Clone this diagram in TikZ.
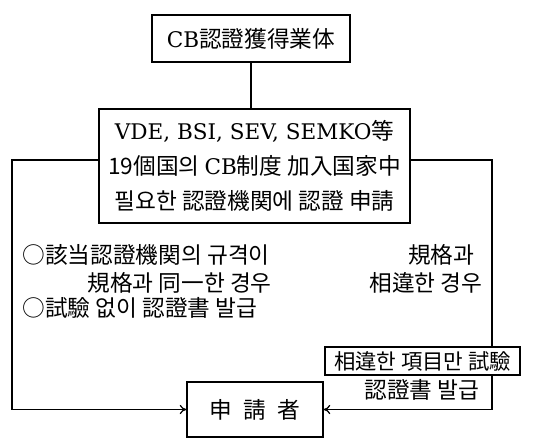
\documentclass[tikz,border=0pt]{standalone}
\usepackage{fontspec}
\newfontfamily\kr{Noto Sans CJK KR}
\newfontfamily\lat{DejaVu Serif}[Scale=0.95]
\usepackage{tikz}
\usetikzlibrary{calc,arrows.meta}

\begin{document}
\begin{tikzpicture}[x=0.75pt,y=-0.75pt,line width=0.9pt,>={To[length=5pt,width=7pt]},
    caja/.style={draw,inner sep=0pt,align=center,font=\kr\fontsize{17}{25}\selectfont},
    texto/.style={inner sep=0pt,font=\kr\fontsize{17}{22}\selectfont}]
    \useasboundingbox (0,0) rectangle (542,438);

    % Caja superior
    \node[caja,minimum width=148.5pt,minimum height=35.25pt] (top) at (251,38.5)
      {{\lat CB}認證獲得業体};

    % Caja central
    \node[caja,minimum width=233.25pt,minimum height=85.5pt] (mid) at (254.5,166)
      {{\lat VDE, BSI, SEV, SEMKO}等\\[1pt]19個国의 {\lat CB}制度 加入国家中\\[1pt]필요한 認證機関에 認證 申請};

    % Caja de prueba
    \node[caja,font=\kr\fontsize{16}{20}\selectfont,minimum width=146.25pt,minimum height=21pt] (diff) at (422.5,361)
      {相違한 項目만 試驗};

    % Caja del solicitante
    \node[caja,minimum width=102pt,minimum height=41.25pt] (app) at (255,409.5)
      {申\hspace{0.5em}請\hspace{0.5em}者};

    % Textos a la izquierda
    \node[texto,anchor=west] (c1) at (22,255) {○該当認證機関의 규격이};
    \node[texto,anchor=west] (c2) at (87,283) {規格과 同一한 경우};
    \node[texto,anchor=west] (c3) at (22,308) {○試驗 없이 認證書 발급};

    % Textos a la derecha
    \node[texto,anchor=east] (d1) at (475,255) {規格과};
    \node[texto,anchor=east] (d2) at (483,283) {相違한 경우};
    \node[texto,anchor=east] (d3) at (480,390) {認證書 발급};

    % Conectores
    \coordinate (lft) at (12,160);
    \coordinate (rgt) at (492,160);
    \draw (top.south) -- (top.south |- mid.north);
    \draw[->] (lft -| mid.west) -- (lft) |- (app.west);
    \draw (rgt -| mid.east) -- (rgt) -- (rgt |- diff.north);
    \draw[->] (rgt |- diff.south) |- (app.east);
  \end{tikzpicture}
\end{document}
